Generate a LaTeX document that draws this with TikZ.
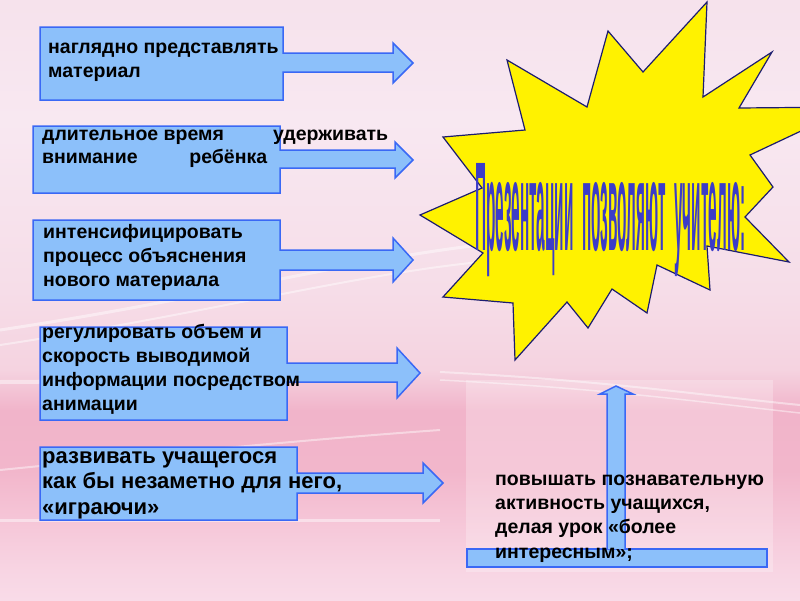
\documentclass[tikz,border=0pt]{standalone}
\usepackage{fontspec}
\setmainfont{Liberation Sans}
\usepackage{graphicx}
\definecolor{bgA}{HTML}{F6E2EC}
\definecolor{bgB}{HTML}{F8E8F1}
\definecolor{bgC}{HTML}{F6DDE8}
\definecolor{bgD}{HTML}{F5D3E0}
\definecolor{bgE}{HTML}{F1B4CA}
\definecolor{bgF}{HTML}{F2B6CB}
\definecolor{bgG}{HTML}{F6C9DA}
\definecolor{bgH}{HTML}{F8D6E4}
\definecolor{bgI}{HTML}{F9DBE8}
\definecolor{boxfill}{HTML}{8CC0FA}
\definecolor{boxline}{HTML}{3A68F5}
\definecolor{starline}{HTML}{1C1C70}
\definecolor{titleblue}{HTML}{3C3CC8}
\pgfdeclareverticalshading{bgshade}{100bp}{color(0bp)=(bgI); color(25bp)=(bgI); color(27.1bp)=(bgH); color(30.8bp)=(bgG); color(35.8bp)=(bgF); color(40.8bp)=(bgE); color(44.2bp)=(bgD); color(50.8bp)=(bgC); color(65bp)=(bgB); color(75bp)=(bgA); color(100bp)=(bgA)}
\tikzset{
  arrowbox/.style={fill=boxfill, draw=boxline, line width=1.5pt, line join=miter},
  starshape/.style={fill=yellow, draw=starline, line width=1.2pt, line join=miter},
  txt/.style={anchor=north west, inner sep=0pt, align=left, text=black, font=\bfseries\fontsize{19.5}{24}\selectfont},
  streak/.style={draw=white, line width=#1, opacity=0.45},
}
\begin{document}
\begin{tikzpicture}[x=1pt,y=-1pt]
\clip (0,0) rectangle (800,600);
\shade[shading=bgshade] (0,0) rectangle (800,600);
% faint background streaks
\draw[streak=3pt] (0,330) .. controls (200,300) and (350,260) .. (480,245);
\draw[streak=2pt] (0,345) .. controls (200,315) and (350,275) .. (480,262);
\draw[streak=4pt] (0,382) -- (300,380);
\draw[streak=2pt] (440,372) .. controls (600,380) and (700,395) .. (800,405);
\draw[streak=1.5pt] (440,380) .. controls (600,388) and (700,402) .. (800,413);
\draw[streak=3pt] (0,520) -- (440,520);
\draw[streak=2pt] (0,470) .. controls (150,455) and (300,440) .. (440,430);
% translucent panel bottom right
\fill[white, opacity=0.25] (466,380) rectangle (773,572);

% starburst
\draw[starshape] (707,2) -- (703,97) -- (772,52) -- (739,108) -- (852,107) -- (750,155)
  -- (773,187) -- (745,217) -- (789,262) -- (707,246) -- (710,290) -- (657,265)
  -- (647,313) -- (612,289) -- (588,328) -- (567,302) -- (515,360) -- (513,303)
  -- (443,297) -- (483,253) -- (420,215) -- (482,188) -- (443,137) -- (525,130)
  -- (507,60) -- (587,107) -- (608,31) -- (643,72) -- cycle;
\node[anchor=base west, inner sep=0pt, text=titleblue] (title) at (475,250)
  {\resizebox{270pt}{87pt}{\bfseries Презентации\ \ позволяют\ \ учителю:}};

% arrow boxes
\draw[arrowbox] (40,27) -- (283,27) -- (283,53) -- (393,53) -- (393,43) -- (413,63)
  -- (393,83) -- (393,72) -- (283,72) -- (283,100) -- (40,100) -- cycle;
\draw[arrowbox] (33,126) -- (280,126) -- (280,150) -- (395,150) -- (395,142) -- (413,160)
  -- (395,178) -- (395,168) -- (280,168) -- (280,193) -- (33,193) -- cycle;
\draw[arrowbox] (33,220) -- (280,220) -- (280,250) -- (393,250) -- (393,238) -- (413,260)
  -- (393,282) -- (393,270) -- (280,270) -- (280,300) -- (33,300) -- cycle;
\draw[arrowbox] (40,327) -- (287,327) -- (287,363) -- (397,363) -- (397,348) -- (420,373)
  -- (397,398) -- (397,382) -- (287,382) -- (287,420) -- (40,420) -- cycle;
\draw[arrowbox] (40,447) -- (297,447) -- (297,473) -- (423,473) -- (423,463) -- (443,483)
  -- (423,503) -- (423,493) -- (297,493) -- (297,520) -- (40,520) -- cycle;

% bottom right bar and up arrow
\draw[arrowbox] (467,549) rectangle (767,567);
\draw[arrowbox] (607,549) -- (607,394) -- (600,394) -- (616,386) -- (633,394)
  -- (625,394) -- (625,549);

% texts
\node[txt] (t1) at (48,36.2) {\strut наглядно представлять\\материал};
\node[txt, font=\bfseries\fontsize{19.5}{23}\selectfont] (t2) at (42,123.9)
  {\strut\makebox[346pt][l]{длительное время\hfill удерживать}\\\makebox[225pt][l]{внимание\hfill ребёнка}};
\node[txt, font=\bfseries\fontsize{19.5}{24.3}\selectfont] (t3) at (43,221)
  {\strut интенсифицировать\\процесс объяснения\\нового материала};
\node[txt] (t4) at (42,321.2)
  {\strut регулировать объем и\\скорость выводимой\\информации посредством\\анимации};
\node[txt, font=\bfseries\fontsize{22}{25.8}\selectfont] (t5) at (42,444.9)
  {\strut развивать учащегося\\как бы незаметно для него,\\«играючи»};
\node[txt, font=\bfseries\fontsize{19.5}{24.4}\selectfont] (t6) at (495,467.9)
  {\strut повышать познавательную\\активность учащихся,\\делая урок «более\\интересным»;};
\end{tikzpicture}
\end{document}
